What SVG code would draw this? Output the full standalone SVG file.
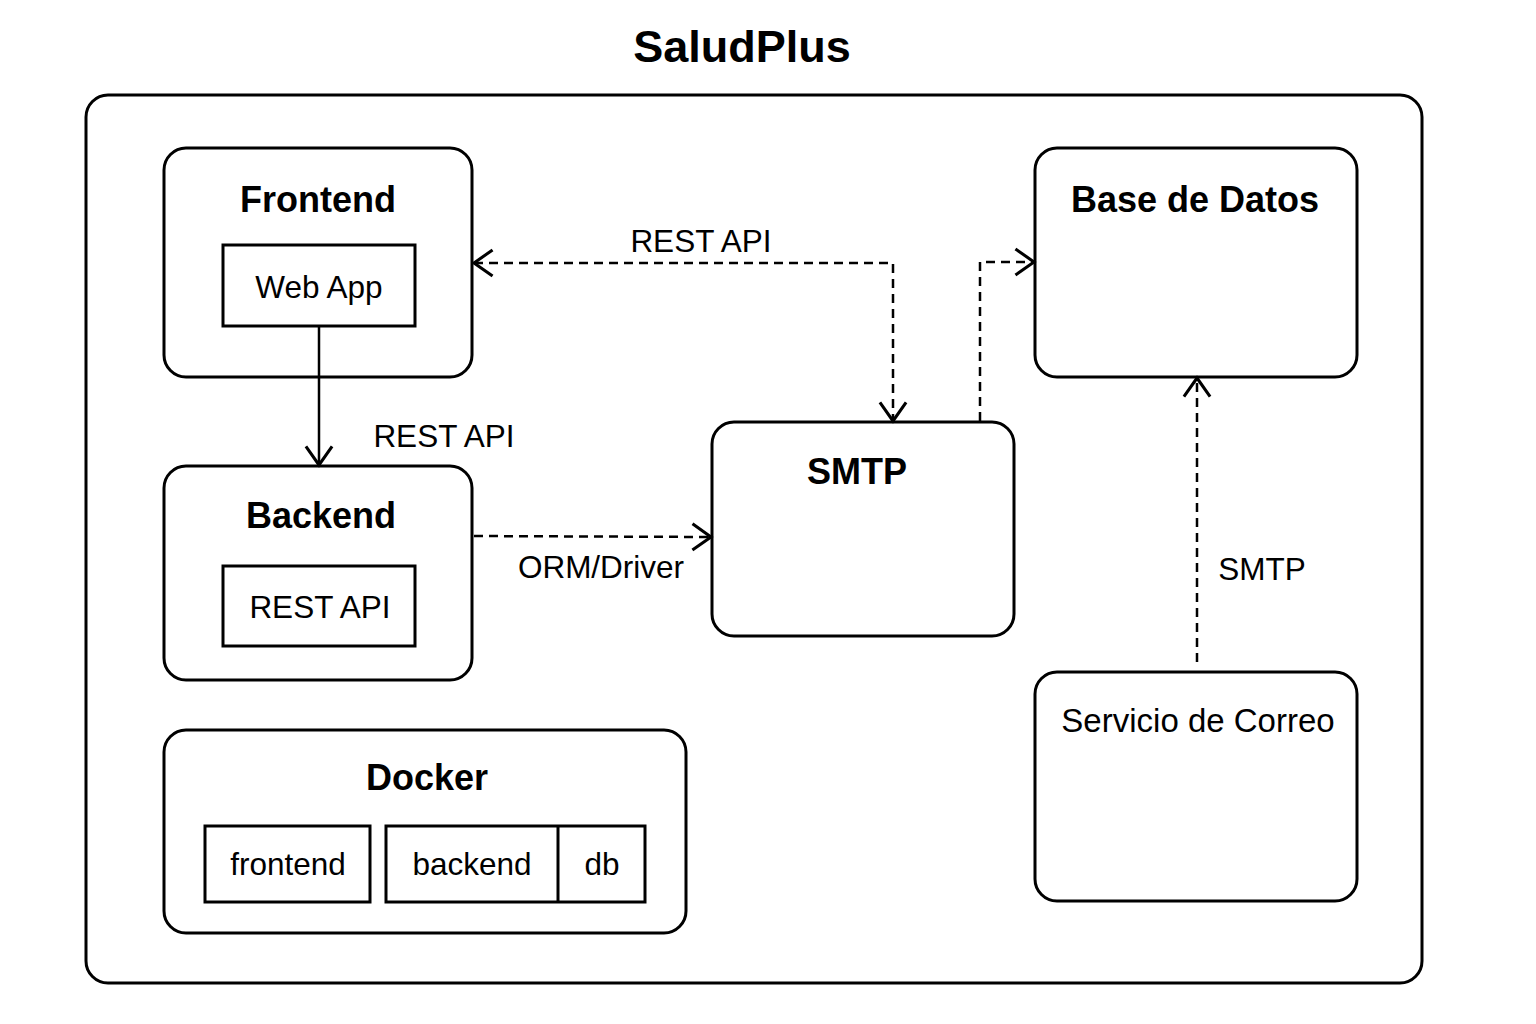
<svg xmlns="http://www.w3.org/2000/svg" width="1536" height="1024" viewBox="0 0 1536 1024">
<style>
.box{fill:#fff;stroke:#000;stroke-width:3}
.inner{fill:#fff;stroke:#000;stroke-width:3}
.t{font-family:"Liberation Sans",Arial,sans-serif;fill:#000;text-anchor:middle}
.b{font-weight:bold;font-size:36px}
.n{font-size:31.5px}
.c{fill:none;stroke:#000;stroke-width:2.5}
.d{stroke-dasharray:9 6}
</style>
<defs>
<marker id="ah" markerUnits="userSpaceOnUse" markerWidth="24" markerHeight="30" refX="18" refY="13" orient="auto-start-reverse" viewBox="0 0 22 26">
<path d="M1,1 L18,13 L1,25" fill="none" stroke="#000" stroke-width="2.8"/>
</marker>
</defs>
<rect width="1536" height="1024" fill="#fff"/>
<text class="t" x="742" y="62" font-size="45" font-weight="bold">SaludPlus</text>
<rect class="box" x="86" y="95" width="1336" height="888" rx="22"/>
<g id="frontend">
<rect class="box" x="164" y="148" width="308" height="229" rx="22"/>
<text class="t b" x="318" y="212">Frontend</text>
<rect class="inner" x="223" y="245" width="192" height="81"/>
<text class="t n" x="319" y="298">Web App</text>
</g>
<g id="backend">
<rect class="box" x="164" y="466" width="308" height="214" rx="22"/>
<text class="t b" x="321" y="528">Backend</text>
<rect class="inner" x="223" y="566" width="192" height="80"/>
<text class="t n" x="320" y="618">REST API</text>
</g>
<g id="docker">
<rect class="box" x="164" y="730" width="522" height="203" rx="22"/>
<text class="t b" x="427" y="790">Docker</text>
<rect class="inner" x="205" y="826" width="165" height="76"/>
<text class="t n" x="288" y="875">frontend</text>
<rect class="inner" x="386" y="826" width="259" height="76"/>
<line x1="558" y1="826" x2="558" y2="902" stroke="#000" stroke-width="3"/>
<text class="t n" x="472" y="875">backend</text>
<text class="t n" x="602" y="875">db</text>
</g>
<g id="smtp">
<rect class="box" x="712" y="422" width="302" height="214" rx="22"/>
<text class="t b" x="857" y="484">SMTP</text>
</g>
<g id="basededatos">
<rect class="box" x="1035" y="148" width="322" height="229" rx="22"/>
<text class="t b" x="1195" y="212">Base de Datos</text>
</g>
<g id="correo">
<rect class="box" x="1035" y="672" width="322" height="229" rx="22"/>
<text class="t" x="1198" y="732" font-size="33">Servicio de Correo</text>
</g>
<g id="connectors">
<line class="c" x1="319" y1="326" x2="319" y2="465" marker-end="url(#ah)"/>
<text class="t n" x="444" y="447">REST API</text>
<path class="c d" d="M474,263 L893,263 L893,421" marker-start="url(#ah)" marker-end="url(#ah)"/>
<text class="t n" x="701" y="252">REST API</text>
<path class="c d" d="M980,421 L980,262 L1034,262" marker-end="url(#ah)"/>
<line class="c d" x1="474" y1="536" x2="711" y2="537" marker-end="url(#ah)"/>
<text class="t n" x="601" y="578">ORM/Driver</text>
<line class="c d" x1="1197" y1="662" x2="1197" y2="378" marker-end="url(#ah)"/>
<text class="t n" x="1262" y="580">SMTP</text>
</g>
</svg>
